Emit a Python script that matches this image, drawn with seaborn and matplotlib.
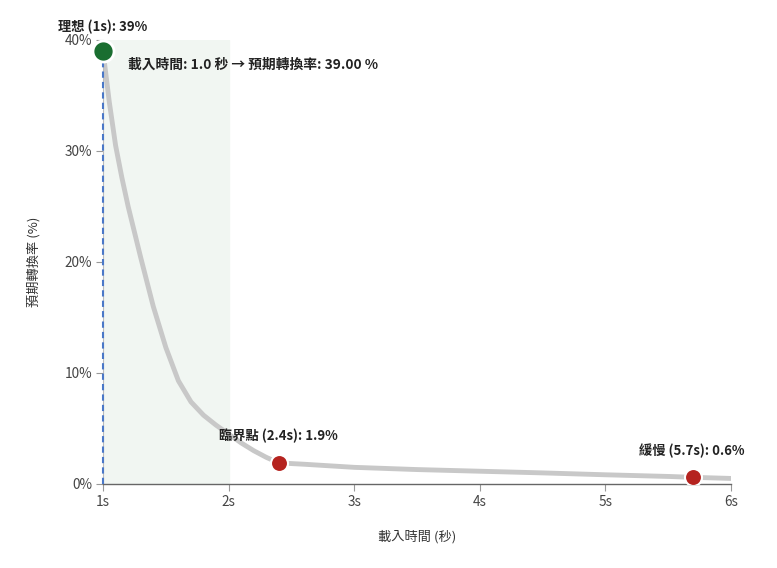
import pandas as pd
import matplotlib.pyplot as plt
import seaborn as sns

# curve (load time in s, conversion in %)
load_time = [1.0, 1.05, 1.1, 1.15, 1.2, 1.3, 1.4, 1.5, 1.6, 1.7, 1.8, 1.9, 2.0,
             2.1, 2.2, 2.3, 2.4, 2.6, 3.0, 3.5, 4.0, 4.5, 5.0, 5.5, 5.7, 6.0]
conversion = [39.0, 34.4, 30.5, 27.6, 25.0, 20.4, 16.0, 12.3, 9.3, 7.4, 6.2, 5.3, 4.5,
              3.7, 3.0, 2.4, 1.9, 1.78, 1.5, 1.3, 1.15, 1.0, 0.83, 0.68, 0.6, 0.5]

# highlighted points
point_labels = ["理想 (1s): 39%", "臨界點 (2.4s): 1.9%", "緩慢 (5.7s): 0.6%"]
point_x = [1.0, 2.4, 5.7]
point_y = [39.0, 1.9, 0.6]

x_ticks = [1, 2, 3, 4, 5, 6]
y_ticks = [0, 10, 20, 30, 40]
tooltip_text = "載入時間: 1.0 秒 → 預期轉換率: 39.00 %"

curve = pd.DataFrame({"load_time": load_time, "conversion": conversion})
points = pd.DataFrame({"x": point_x, "y": point_y, "label": point_labels})

sns.set_theme(style="white")
plt.rcParams["font.family"] = ["Noto Sans CJK TC", "DejaVu Sans"]

fig = plt.figure(figsize=(7.77, 5.68), dpi=100)
ax = fig.add_axes([0.1326, 0.1479, 0.8082, 0.7817])

# ideal zone
ax.axvspan(1, 2, color="#f1f6f2", zorder=0)

sns.lineplot(data=curve, x="load_time", y="conversion", ax=ax,
             color="#c8c8c8", linewidth=3.5, zorder=2,
             solid_joinstyle="round", solid_capstyle="round")

# crosshair at hovered point
ax.plot([1, 1], [0, 39], color="#4a78c8", linestyle=(0, (3, 2)), linewidth=1.5,
        zorder=4, clip_on=False)

sns.scatterplot(data=points.iloc[[0]], x="x", y="y", ax=ax, s=230,
                color="#1a6e30", edgecolor="white", linewidth=2, zorder=5, clip_on=False)
sns.scatterplot(data=points.iloc[1:], x="x", y="y", ax=ax, s=150,
                color="#b5231f", edgecolor="white", linewidth=1.5, zorder=5)

label_offsets = [(0, 12), (0, 14), (-1, 14)]
for (_, row), off in zip(points.iterrows(), label_offsets):
    ax.annotate(row["label"], (row["x"], row["y"]), xytext=off, textcoords="offset points",
                ha="center", va="bottom", fontsize=9.5, fontweight="bold", color="#222222",
                annotation_clip=False)

ax.annotate(tooltip_text, (1.0, 39.0), xytext=(18, -10), textcoords="offset points",
            ha="left", va="center", fontsize=9.9, fontweight="bold", color="#222222")

ax.set_xlim(1, 6)
ax.set_ylim(0, 40)
ax.set_xticks(x_ticks)
ax.set_xticklabels([f"{t}s" for t in x_ticks])
ax.set_yticks(y_ticks)
ax.set_yticklabels([f"{t}%" for t in y_ticks])
ax.tick_params(axis="both", length=5, width=0.8, color="#999999",
               labelsize=9.8, labelcolor="#444444", bottom=True, left=True, pad=3)

for side in ["top", "right"]:
    ax.spines[side].set_visible(False)
ax.spines["left"].set_color("#bbbbbb")
ax.spines["left"].set_linewidth(0.8)
ax.spines["bottom"].set_color("#666666")
ax.spines["bottom"].set_linewidth(1.0)

ax.set_xlabel("載入時間 (秒)", fontsize=9.5, color="#333333", labelpad=15)
ax.set_ylabel("預期轉換率 (%)", fontsize=9.5, color="#333333", labelpad=17)

fig.savefig("out.png", dpi=100)
